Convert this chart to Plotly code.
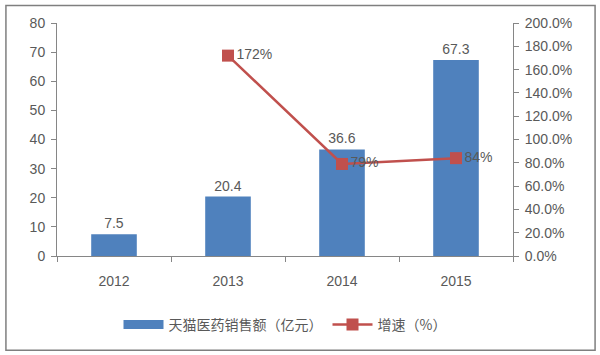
import plotly.graph_objects as go

years = ["2012", "2013", "2014", "2015"]
sales = [7.5, 20.4, 36.6, 67.3]
growth_years = ["2013", "2014", "2015"]
growth = [1.72, 0.79, 0.84]
growth_labels = ["172%", "79%", "84%"]

NUM_FONT = "Liberation Sans, Arial, sans-serif"
CJK_FONT = "Noto Sans CJK SC, sans-serif"
TXT = "#595959"
AX = "#868686"
BLUE = "#4F81BD"
RED = "#C0504D"

fig = go.Figure()
fig.add_trace(go.Bar(
    x=years, y=sales, name="天猫医药销售额（亿元）", showlegend=False,
    marker=dict(color=BLUE, line=dict(color=BLUE, width=0)),
    width=0.4,
    text=[str(v) for v in sales], textposition="outside",
    textfont=dict(family=NUM_FONT, size=14, color=TXT),
    cliponaxis=False,
))
# legend proxy for bar series (wide rectangle symbol)
fig.add_trace(go.Scatter(
    x=[None], y=[None], name="天猫医药销售额（亿元）", mode="lines",
    line=dict(color=BLUE, width=9), showlegend=True,
))
fig.add_trace(go.Scatter(
    x=growth_years, y=growth, name="增速（%）", yaxis="y2",
    mode="lines+markers+text",
    line=dict(color=RED, width=2.5),
    marker=dict(symbol="square", size=12, color=RED),
    text=growth_labels, textposition="middle right",
    textfont=dict(family=NUM_FONT, size=14, color=TXT),
    cliponaxis=False,
))

fig.update_layout(
    width=600, height=355,
    margin=dict(l=57, r=87, t=23, b=99),
    paper_bgcolor="white", plot_bgcolor="white",
    showlegend=True,
    legend=dict(orientation="h", x=0.5, xanchor="center", y=-0.296, yanchor="middle",
                font=dict(family=CJK_FONT, size=14, color=TXT), traceorder="normal",
                itemwidth=40),
    xaxis=dict(type="category", showline=True, linecolor=AX, linewidth=1,
               ticks="outside", tickson="boundaries", ticklen=5, tickcolor=AX,
               ticklabelstandoff=12,
               tickfont=dict(family=NUM_FONT, size=14, color=TXT), showgrid=False,
               automargin=False),
    yaxis=dict(range=[0, 80], dtick=10, showline=True, linecolor=AX, linewidth=1,
               ticks="outside", ticklen=5, tickcolor=AX, showgrid=False, zeroline=False,
               ticklabelstandoff=3,
               tickfont=dict(family=NUM_FONT, size=14, color=TXT), automargin=False),
    yaxis2=dict(range=[0, 2], dtick=0.2, tickformat=".1%", overlaying="y", side="right",
                showline=True, linecolor=AX, linewidth=1, ticks="outside", ticklen=5,
                tickcolor=AX, showgrid=False, zeroline=False, automargin=False,
                ticklabelstandoff=3,
                tickfont=dict(family=NUM_FONT, size=14, color=TXT)),
    shapes=[dict(type="rect", xref="paper", yref="paper",
                 x0=-0.112, x1=1.18, y0=-0.405, y1=1.075,
                 line=dict(color="#7F7F7F", width=1.5), fillcolor="rgba(0,0,0,0)")],
)

fig.write_html("out.html", config={"displayModeBar": False},
               post_script="document.body.style.margin='0';document.body.style.overflow='hidden';")
